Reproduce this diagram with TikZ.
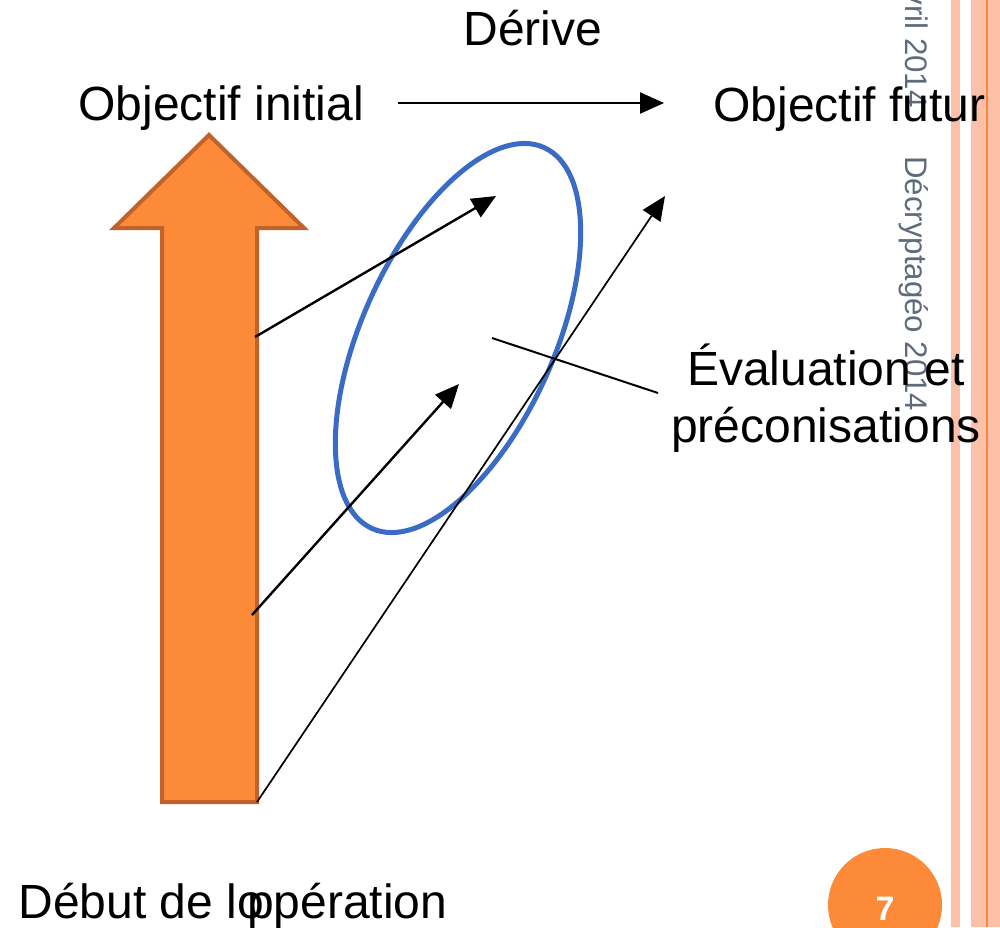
\documentclass[tikz,border=0pt]{standalone}
\usepackage{fontspec}
\setmainfont{Liberation Sans}
\usetikzlibrary{arrows.meta}
\definecolor{arrfill}{RGB}{253,138,56}
\definecolor{arrdraw}{RGB}{192,98,42}
\definecolor{ellblue}{RGB}{58,108,198}
\definecolor{stripe}{RGB}{252,192,168}
\definecolor{stripeline}{RGB}{250,135,55}
\definecolor{footgray}{RGB}{95,107,124}
\begin{document}
\begin{tikzpicture}[x=0.5pt,y=-0.5pt,
  big/.style={font=\fontsize{24}{28}\selectfont, inner sep=0, anchor=base west},
  foot/.style={font=\fontsize{15.6}{18}\selectfont, text=footgray, inner sep=0, rotate=-90},
  conn/.style={line width=1.2pt, -{Triangle[length=12pt,width=10.5pt]}},
  thinconn/.style={line width=0.85pt, -{Triangle[length=12pt,width=10.5pt]}},
  leader/.style={line width=1pt}]
\useasboundingbox (0,0) rectangle (1000,927);
\clip (0,0) rectangle (1000,927);
% right-hand stripes
\fill[stripe] (951,0) rectangle (960,927);
\fill[stripe] (971,0) rectangle (1000,927);
\draw[stripeline, line width=1pt] (987,0) -- (987,927);
% footer vertical texts
\node[foot, anchor=base east] (avril) at (905,108) {Avril 2014};
\node[foot, anchor=base west] (decr) at (905,156) {Décryptagéo 2014};
% big orange arrow
\draw[arrdraw, fill=arrfill, line width=2pt, line join=miter]
  (209,135) -- (304,228) -- (257,228) -- (257,802) -- (162,802) -- (162,228) -- (114,228) -- cycle;
% ellipse
\draw[ellblue, line width=2.5pt, rotate around={65.7:(458,338)}] (458,338) ellipse [x radius=209, y radius=96];
% texts
\node[big] (derive) at (463,45) {Dérive};
\node[big] (oinit) at (78,120) {Objectif initial};
\node[big] (ofut) at (713,121) {Objectif futur};
\node[big, anchor=base] (eval1) at (826,385) {Évaluation et};
\node[big, anchor=base] (eval2) at (826,442) {préconisations};
\node[big] (debut) at (18,918) {Début de lo\kern-.35em ppération};
% page number
\node[circle, fill=arrfill, minimum size=57pt, inner sep=0] (pg) at (885,905) {};
\node[text=white, font=\bfseries\fontsize{17}{20}\selectfont, inner sep=0, anchor=base] (pgn) at (885,920) {7};
% connectors
\coordinate (hs) at (398,103);
\coordinate (he) at (664,103);
\draw[conn] (hs) -- (he);
\coordinate (s1) at (255,337);
\coordinate (t1) at (496,196);
\draw[conn] (s1) -- (t1);
\coordinate (s2) at (252,615);
\coordinate (t2) at (459,384);
\draw[conn] (s2) -- (t2);
\coordinate (s3) at (257,802);
\coordinate (t3) at (665,196);
\draw[thinconn] (s3) -- (t3);
\coordinate (l1) at (492,338);
\coordinate (l2) at (658,393);
\draw[leader] (l1) -- (l2);
\end{tikzpicture}
\end{document}
